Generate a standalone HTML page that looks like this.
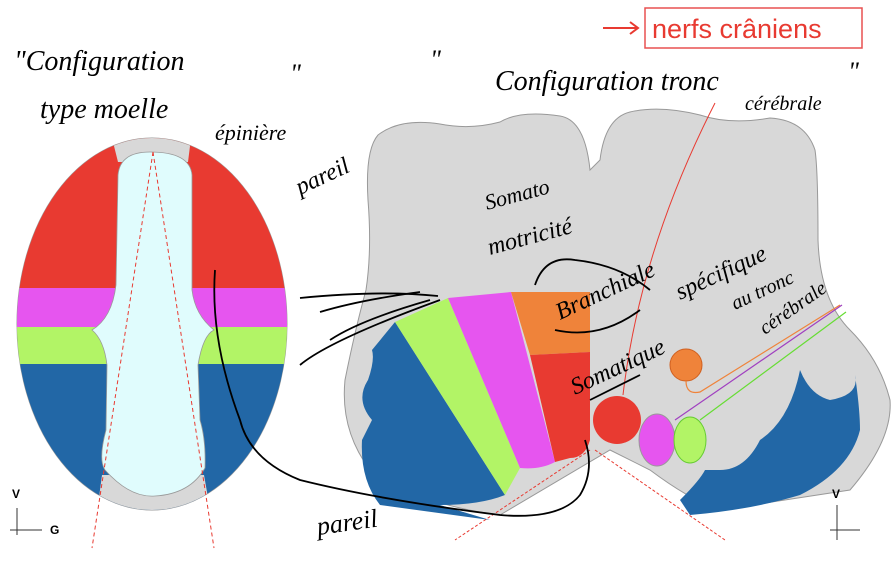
<!DOCTYPE html>
<html><head><meta charset="utf-8"><style>
html,body{margin:0;padding:0;background:#fff}
svg{display:block}
.h{font-family:"Liberation Serif",serif;font-style:italic;fill:#000}
</style></head><body>
<svg width="896" height="562" viewBox="0 0 896 562" xmlns="http://www.w3.org/2000/svg">
<defs>
<clipPath id="ov"><ellipse cx="152" cy="324" rx="135" ry="186"/></clipPath>
</defs>
<!-- left spinal cord -->
<ellipse cx="152" cy="324" rx="135" ry="186" fill="#d8d8d8" stroke="#999" stroke-width="1"/>
<g clip-path="url(#ov)">
<rect x="0" y="130" width="300" height="158" fill="#e83a31"/>
<rect x="0" y="288" width="300" height="40" fill="#e655ef"/>
<rect x="0" y="327" width="300" height="38" fill="#b2f466"/>
<rect x="0" y="364" width="300" height="160" fill="#2267a6"/>
<path d="M110,130 L192,130 L188,162 L118,162 Z" fill="#d8d8d8"/>
<path d="M102,475 L204,475 L212,520 L96,520 Z" fill="#d8d8d8"/>
</g>
<path d="M150,152 Q120,152 118,175 L116,285 Q112,318 92,330 Q104,340 107,365 L106,430 Q98,460 105,470 Q130,498 155,496 Q190,494 205,468 Q206,440 200,420 L198,365 Q203,335 214,330 Q195,315 192,290 L192,175 Q190,152 150,152 Z" fill="#e0fcfd" stroke="#999" stroke-width="0.8"/>
<g stroke="#e83a31" stroke-width="1" stroke-dasharray="4,3" fill="none">
<path d="M153,152 L92,548"/><path d="M153,152 L214,548"/>
</g>
<!-- right brainstem -->
<path d="M590,170 Q585,120 560,116 Q520,110 500,122 Q470,130 440,124 Q400,118 378,135 Q365,150 368,200 Q372,250 366,290 Q355,330 345,380 Q340,430 370,470 Q420,505 500,515 L610,450 L650,470 Q690,500 720,510 L850,490 Q893,440 890,400 Q880,360 850,330 Q820,300 818,240 Q818,170 815,150 Q805,120 770,118 Q730,125 700,115 Q660,105 630,112 Q605,118 600,160 Z" fill="#d8d8d8" stroke="#999" stroke-width="1"/>
<!-- left blue -->
<path d="M395,322 L505,495 Q480,505 440,505 L490,520 L380,505 Q360,480 362,440 L372,420 Q355,400 368,380 Q375,360 372,350 Z" fill="#2267a6"/>
<path d="M395,322 L448,298 L520,468 L505,495 Z" fill="#b2f466"/>
<path d="M448,298 L511,292 L555,462 Q540,470 520,468 Z" fill="#e655ef"/>
<path d="M511,292 L590,292 L590,352 L530,355 Z" fill="#ef833a"/>
<path d="M530,355 L590,352 L590,440 Q585,458 570,458 L555,462 Z" fill="#e83a31"/>
<!-- right blue -->
<path d="M680,500 Q700,480 705,470 L720,470 Q745,470 760,440 Q790,420 800,370 Q810,395 830,400 Q860,395 855,375 Q860,410 860,430 Q850,470 800,495 Q750,510 690,515 Z" fill="#2267a6"/>
<circle cx="686" cy="365" r="16" fill="#ef833a" stroke="#d06020" stroke-width="1"/>
<circle cx="617" cy="420" r="24" fill="#e83a31"/>
<ellipse cx="657" cy="440" rx="18" ry="26" fill="#e655ef" stroke="#999"/>
<ellipse cx="690" cy="440" rx="16" ry="23" fill="#b2f466" stroke="#6c3"/>
<path d="M686,381 Q686,395 700,392 L840,305" stroke="#ef833a" fill="none" stroke-width="1.2"/>
<path d="M675,420 L842,305" stroke="#a040c0" fill="none" stroke-width="1.2"/>
<path d="M700,420 L846,312" stroke="#66dd33" fill="none" stroke-width="1.2"/>
<g stroke="#e83a31" stroke-width="1" stroke-dasharray="3,2" fill="none">
<path d="M590,450 L455,540"/><path d="M595,450 L725,540"/>
</g>
<path d="M715,103 Q640,250 623,395" stroke="#e83a31" fill="none" stroke-width="1"/>
<!-- axes -->
<g stroke="#333" stroke-width="1"><line x1="17" y1="508" x2="17" y2="535"/><line x1="10" y1="530" x2="42" y2="530"/>
<line x1="837" y1="505" x2="837" y2="540"/><line x1="830" y1="530" x2="860" y2="530"/></g>
<text x="12" y="498" font-family="Liberation Sans" font-weight="bold" font-size="12">V</text>
<text x="50" y="534" font-family="Liberation Sans" font-weight="bold" font-size="12">G</text>
<text x="832" y="498" font-family="Liberation Sans" font-weight="bold" font-size="12">V</text>
<!-- label box -->
<rect x="645" y="8" width="217" height="40" fill="#fff" stroke="#e85050" stroke-width="1.5"/>
<text x="652" y="38" font-family="Liberation Sans" font-size="27" fill="#e83a31">nerfs crâniens</text>
<path d="M603,28 L638,28 M630,22 L638,28 L630,34" stroke="#e83a31" stroke-width="2" fill="none"/>
<!-- handwriting -->
<text class="h" x="14" y="70" font-size="28">"Configuration</text>
<text class="h" x="40" y="118" font-size="28">type moelle</text>
<text class="h" x="290" y="82" font-size="26">"</text>
<text class="h" x="215" y="140" font-size="22">épinière</text>
<text class="h" x="430" y="68" font-size="26">"</text>
<text class="h" x="495" y="90" font-size="28">Configuration tronc</text>
<text class="h" x="745" y="110" font-size="20">cérébrale</text>
<text class="h" x="848" y="80" font-size="26">"</text>
<text class="h" x="300" y="195" font-size="24" transform="rotate(-25 300 195)">pareil</text>
<text class="h" x="487" y="210" font-size="22" transform="rotate(-15 487 210)">Somato</text>
<text class="h" x="490" y="255" font-size="24" transform="rotate(-15 490 255)">motricité</text>
<text class="h" x="560" y="320" font-size="24" transform="rotate(-25 560 320)">Branchiale</text>
<text class="h" x="680" y="300" font-size="24" transform="rotate(-25 680 300)">spécifique</text>
<text class="h" x="735" y="310" font-size="20" transform="rotate(-25 735 310)">au tronc</text>
<text class="h" x="765" y="335" font-size="20" transform="rotate(-35 765 335)">cérébrale</text>
<text class="h" x="575" y="395" font-size="24" transform="rotate(-25 575 395)">Somatique</text>
<text class="h" x="318" y="535" font-size="26" transform="rotate(-8 318 535)">pareil</text>
<g stroke="#000" stroke-width="1.8" fill="none">
<path d="M300,298 Q380,290 438,296"/>
<path d="M320,312 Q360,300 420,292"/>
<path d="M330,340 Q360,320 430,300"/>
<path d="M300,365 Q330,340 440,300"/>
<path d="M535,285 Q545,255 575,260 Q620,265 650,290"/>
<path d="M215,270 Q210,340 240,420 Q250,460 300,480 Q380,500 500,515 Q560,520 580,495 Q595,470 585,440"/>
<path d="M555,330 Q600,340 640,310"/>
<path d="M590,400 Q610,390 640,375"/>
</g>
</svg>
</body></html>
